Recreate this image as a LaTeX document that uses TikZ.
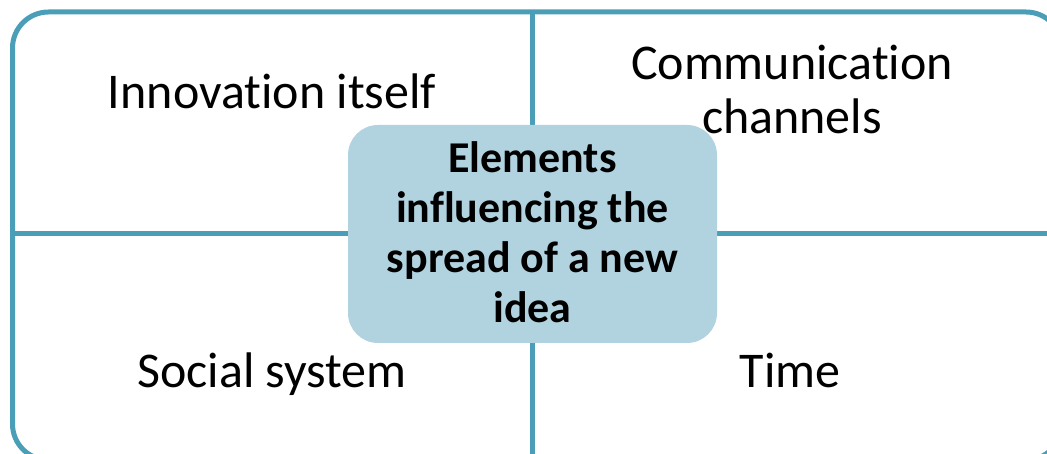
\documentclass[tikz,border=0pt]{standalone}
\usepackage{fontspec}
\setmainfont{Carlito}[Ligatures={NoCommon}]
\definecolor{frameblue}{RGB}{74,158,184}
\definecolor{boxblue}{RGB}{177,211,223}
\begin{document}
\begin{tikzpicture}[x=1pt,y=-1pt,
  frameline/.style={draw=frameblue,line width=5pt},
  quadtext/.style={font=\fontsize{50}{54}\selectfont,align=center,inner sep=0pt,anchor=base},
  centerbox/.style={fill=boxblue,rounded corners=30pt},
  centertext/.style={font=\fontsize{44}{50}\selectfont\bfseries,align=center,inner sep=0pt}]
\useasboundingbox (0,0) rectangle (1047,454);
\begin{scope}
\clip (0,0) rectangle (1047,454);
\draw[frameline,rounded corners=36pt] (12.5,12) rectangle (1062,460);
\coordinate (vtop) at (532.5,12);
\coordinate (vbot) at (532.5,460);
\coordinate (hleft) at (12.5,234);
\coordinate (hright) at (1062,234);
\draw[frameline] (vtop) -- (vbot);
\draw[frameline] (hleft) -- (hright);
\end{scope}
\node[quadtext] (innov) at (272,109) {Innovation itself};
\node[quadtext] (comm) at (792,134) {Communication\\channels};
\node[quadtext] (social) at (272,388) {Social system};
\node[quadtext] (time) at (790,388) {Time};
\fill[centerbox] (348,125) rectangle (717,343);
\node[centertext] (center) at (532.5,232) {Elements\\influencing the\\spread of a new\\idea};
\end{tikzpicture}
\end{document}
